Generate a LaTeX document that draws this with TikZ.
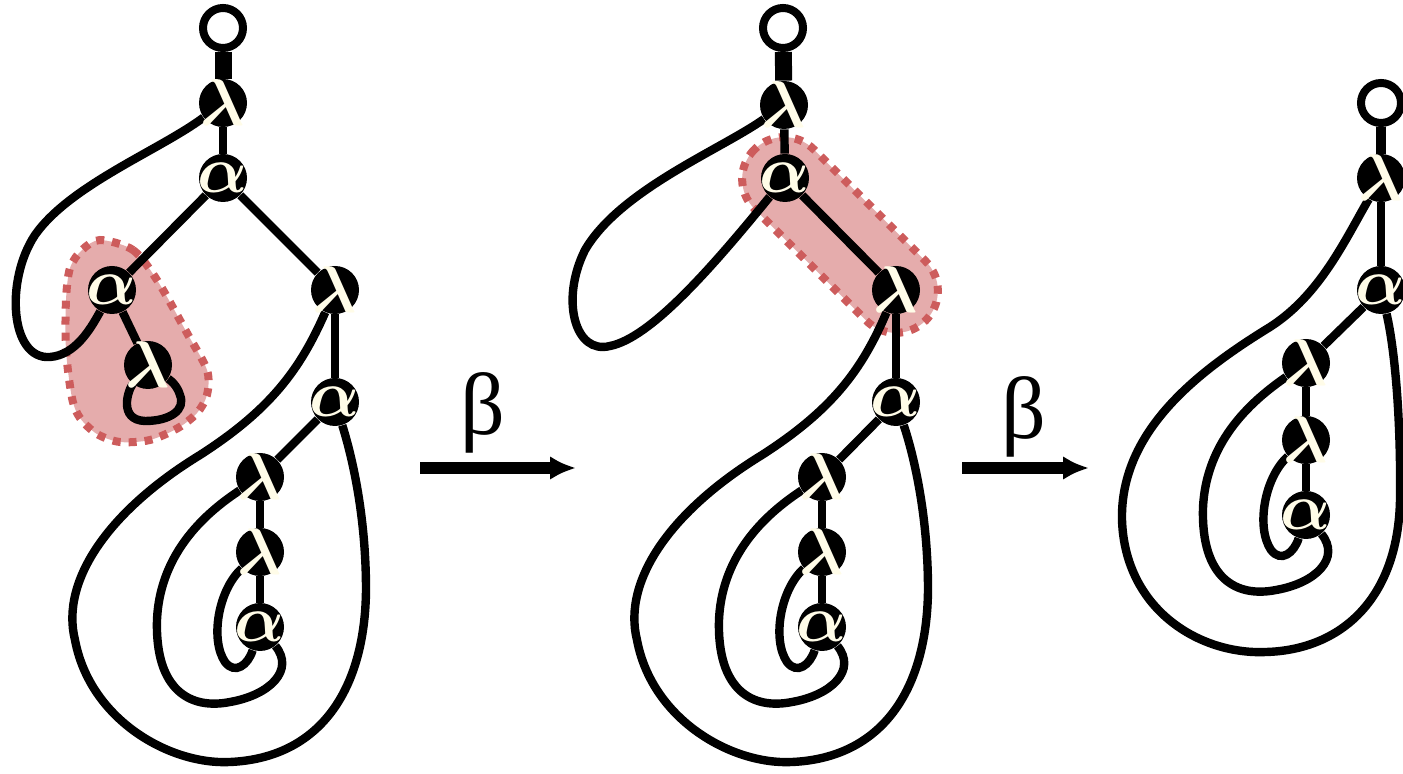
\documentclass[tikz,border=0pt]{standalone}
\usepackage{fontspec}
\setmainfont{Liberation Serif}
\usetikzlibrary{arrows.meta,backgrounds}
\definecolor{ivory}{RGB}{255,252,232}
\definecolor{redexfill}{RGB}{229,172,172}
\definecolor{redexline}{RGB}{205,92,92}
\newcommand{\glyph}[1]{\makebox[0pt]{\raisebox{-.5\height}[0pt][0pt]{\scalebox{3.3}{\boldmath$#1$}}}}

\begin{document}
\begin{tikzpicture}[x=0.5pt,y=-0.5pt,
  every node/.style={font=\fontsize{44}{44}\selectfont},
  agent/.style={circle,fill=black,text=ivory,minimum size=24pt,inner sep=0pt,font=\normalsize},
  port/.style={circle,draw=black,fill=white,line width=4pt,minimum size=20pt,inner sep=0pt},
  wire/.style={line width=4.2pt},
  stem/.style={line width=8.5pt},
  redex/.style={fill=redexfill,draw=redexline,line width=4pt,dash pattern=on 4pt off 4pt},
  rewrite/.style={line width=6pt,-{Latex[length=13pt,width=12pt]}}]
\useasboundingbox (0,0) rectangle (1403,774);
\clip (0,0) rectangle (1403,774);

% first net
\node[port] (p1) at (223,28) {};
\node[agent] (l1) at (223,103) {\glyph{\lambda}};
\node[agent] (a1) at (223,178) {\glyph{\alpha}};
\node[agent] (a2) at (112,290) {\glyph{\alpha}};
\node[agent] (l2) at (148,365) {\glyph{\lambda}};
\node[agent] (l3) at (335,290) {\glyph{\lambda}};
\node[agent] (a3) at (335,402) {\glyph{\alpha}};
\node[agent] (l4) at (260,477) {\glyph{\lambda}};
\node[agent] (l5) at (260,552) {\glyph{\lambda}};
\node[agent] (a4) at (260,627) {\glyph{\alpha}};

% second net
\node[port] (mp1) at (783,28) {};
\node[agent] (ml1) at (784,105) {\glyph{\lambda}};
\node[agent] (ma1) at (785,178) {\glyph{\alpha}};
\node[agent] (ml3) at (896,290) {\glyph{\lambda}};
\node[agent] (ma3) at (896,402) {\glyph{\alpha}};
\node[agent] (ml4) at (822,477) {\glyph{\lambda}};
\node[agent] (ml5) at (822,552) {\glyph{\lambda}};
\node[agent] (ma4) at (822,627) {\glyph{\alpha}};

% third net
\node[port] (rp1) at (1381,103) {};
\node[agent] (rl1) at (1381,178) {\glyph{\lambda}};
\node[agent] (ra1) at (1381,290) {\glyph{\alpha}};
\node[agent] (rl4) at (1306,363) {\glyph{\lambda}};
\node[agent] (rl5) at (1306,440) {\glyph{\lambda}};
\node[agent] (ra4) at (1306,515) {\glyph{\alpha}};

% reduction steps
\coordinate (s1) at (420,468);
\coordinate (t1) at (576,468);
\coordinate (s2) at (962,468);
\coordinate (t2) at (1089,468);
\node (b1) at (483,413) {β};
\node (b2) at (1024,417) {β};
\draw[rewrite] (s1) -- (t1);
\draw[rewrite] (s2) -- (t2);

\begin{scope}[on background layer]
\clip (0,0) rectangle (1403,774);
% redexes
\filldraw[redex] plot[smooth cycle] coordinates {(100,240) (133,250) (157,280) (187,333)
  (207,370) (207,395) (197,413) (178,428) (150,440) (120,442) (97,434) (80,418)
  (72,398) (66,350) (66,300) (70,268) (82,250)};
\filldraw[redex,rotate around={-45:(840,235)},rounded corners=21pt] (719,193) rectangle (961,277);

% first net
\draw[stem] (p1) -- (l1);
\draw[wire] (l1) -- (a1);
\draw[wire] (a1) -- (a2);
\draw[wire] (a1) -- (l3);
\draw[wire] (a2) -- (l2);
\draw[wire] (l3) -- (a3);
\draw[wire] (a3) -- (l4);
\draw[wire] (l4) -- (l5);
\draw[wire] (l5) -- (a4);
\draw[wire] (l1) .. controls (160,150) and (70,185) .. (35,235)
  .. controls (5,280) and (10,360) .. (50,357) .. controls (75,355) and (90,330) .. (a2);
\draw[wire] (l2) .. controls (128,390) and (118,420) .. (145,421)
  .. controls (170,421) and (186,410) .. (180,395) .. controls (177,385) and (170,380) .. (l2);
\draw[wire] (l3) .. controls (300,370) and (270,410) .. (200,455)
  .. controls (110,510) and (60,580) .. (75,640) .. controls (90,720) and (170,765) .. (230,762)
  .. controls (320,758) and (365,690) .. (366,590) .. controls (366,510) and (350,450) .. (a3);
\draw[wire] (l4) .. controls (210,510) and (160,550) .. (157,620)
  .. controls (155,690) and (190,710) .. (230,702) .. controls (270,695) and (295,670) .. (a4);
\draw[wire] (l5) .. controls (218,590) and (210,640) .. (225,662)
  .. controls (235,675) and (248,665) .. (a4);

% second net
\draw[stem] (mp1) -- (ml1);
\draw[wire] (ml1) -- (ma1);
\draw[wire] (ma1) -- (ml3);
\draw[wire] (ml3) -- (ma3);
\draw[wire] (ma3) -- (ml4);
\draw[wire] (ml4) -- (ml5);
\draw[wire] (ml5) -- (ma4);
\draw[wire] (ml1) .. controls (720,150) and (620,190) .. (585,250)
  .. controls (560,300) and (575,355) .. (610,346) .. controls (650,338) and (710,270) .. (ma1);
\begin{scope}[shift={(562,0)}]
\draw[wire] (ml3) .. controls (300,370) and (270,410) .. (200,455)
  .. controls (110,510) and (60,580) .. (75,640) .. controls (90,720) and (170,765) .. (230,762)
  .. controls (320,758) and (365,690) .. (366,590) .. controls (366,510) and (350,450) .. (ma3);
\draw[wire] (ml4) .. controls (210,510) and (160,550) .. (157,620)
  .. controls (155,690) and (190,710) .. (230,702) .. controls (270,695) and (295,670) .. (ma4);
\draw[wire] (ml5) .. controls (218,590) and (210,640) .. (225,662)
  .. controls (235,675) and (248,665) .. (ma4);
\end{scope}

% third net
\draw[line width=5pt] (rp1) -- (rl1);
\draw[wire] (rl1) -- (ra1);
\draw[wire] (ra1) -- (rl4);
\draw[wire] (rl4) -- (rl5);
\draw[wire] (rl5) -- (ra4);
\draw[wire] (rl1) .. controls (1345,240) and (1320,295) .. (1270,327)
  .. controls (1200,370) and (1120,430) .. (1122,520) .. controls (1125,610) and (1200,655) .. (1266,652)
  .. controls (1340,650) and (1398,600) .. (1400,500) .. controls (1401,420) and (1395,350) .. (ra1);
\begin{scope}[shift={(1046,-112)}]
\draw[wire] (rl4) .. controls (210,510) and (160,550) .. (157,620)
  .. controls (155,690) and (190,710) .. (230,702) .. controls (270,695) and (295,670) .. (ra4);
\draw[wire] (rl5) .. controls (218,590) and (210,640) .. (225,662)
  .. controls (235,675) and (248,665) .. (ra4);
\end{scope}
\end{scope}
\end{tikzpicture}
\end{document}
